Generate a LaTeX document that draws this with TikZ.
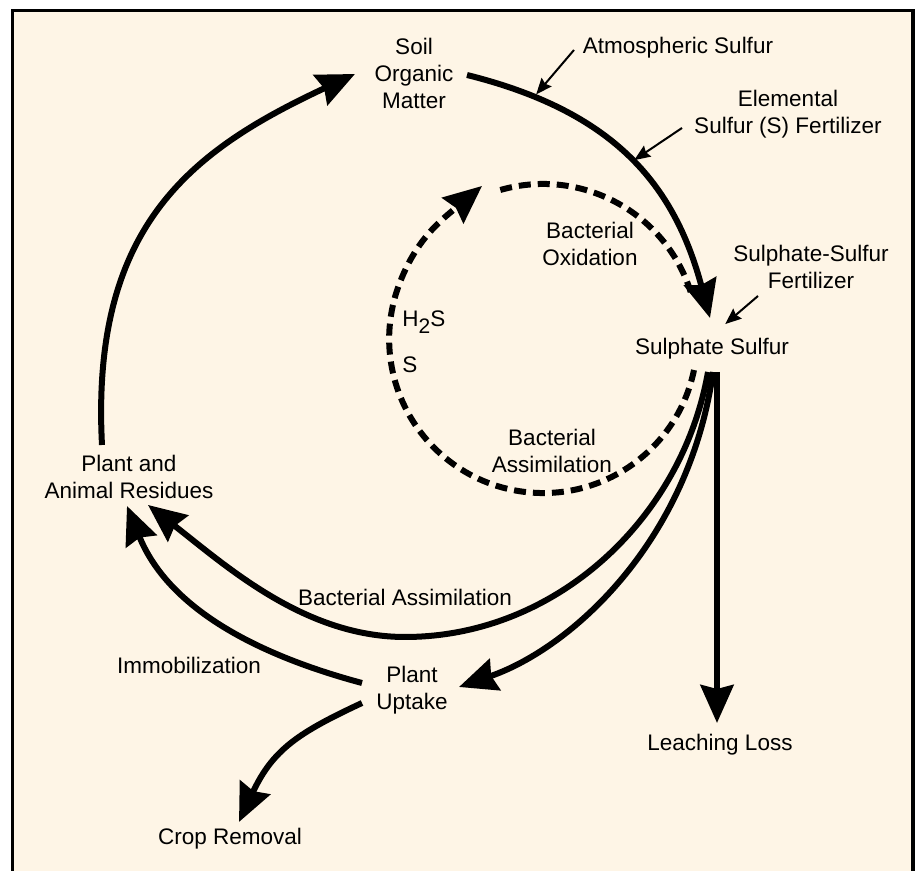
\documentclass[tikz,border=0pt]{standalone}
\usepackage{fontspec}
\setmainfont{Liberation Sans}
\setsansfont{Liberation Sans}
\usepackage{xcolor}
\usepackage{tikz}
\usetikzlibrary{positioning,arrows.meta}
\definecolor{cyCream}{HTML}{FEF5E6}
\definecolor{cyInk}{HTML}{000000}
\tikzset{
  cy-text/.style={font=\sffamily\fontsize{11.25}{13.5}\selectfont,
    align=center, inner sep=0pt, text=cyInk},
  cy-flow/.style={draw=cyInk, line width=3pt,
    -{Stealth[length=19pt,width=16.5pt,inset=2pt]}},
  cy-dash/.style={draw=cyInk, line width=3pt, dash pattern=on 6pt off 3.5pt},
  cy-input/.style={draw=cyInk, line width=1pt,
    -{Stealth[length=8pt,width=6.5pt,inset=1pt]}, shorten >=1.5pt},
  cy-frame/.style={draw=cyInk, line width=1.75pt}
}

\begin{document}
\begin{tikzpicture}[x=0.5pt, y=0.5pt]
\useasboundingbox (0,0) rectangle (916,871);
\fill[cyCream] (12.5,-4) rectangle (913,860.5);
\draw[cy-frame] (12.5,-4) -- (12.5,860.5) -- (913,860.5) -- (913,-4);

\node[cy-text] (som) at (414,798) {Soil\\Organic\\Matter};
\node[cy-text] (atmos) at (678,823) {Atmospheric Sulfur};
\node[cy-text] (elemFert) at (788,757) {Elemental\\Sulfur (S) Fertilizer};
\node[cy-text] (sulfFert) at (811,604.5) {Sulphate-Sulfur\\Fertilizer};
\node[cy-text] (sulphate) at (712,522) {Sulphate Sulfur};
\node[cy-text] (oxid) at (590,627.5) {Bacterial\\Oxidation};
\node[cy-text, anchor=base west] (hsul) at (402,544)
  {H\raisebox{-3.5pt}{\fontsize{10.5}{10.5}\selectfont 2}S};
\node[cy-text, below=23pt of hsul.base west, anchor=base west] (ssul) {S};
\node[cy-text] (assimIn) at (552,420) {Bacterial\\Assimilation};
\node[cy-text] (residues) at (129,394.5) {Plant and\\Animal Residues};
\node[cy-text] (assimOut) at (405,274) {Bacterial Assimilation};
\node[cy-text] (immob) at (189,206) {Immobilization};
\node[cy-text] (uptake) at (412,181) {Plant\\Uptake};
\node[cy-text] (leach) at (720,126) {Leaching Loss};
\node[cy-text] (crop) at (230,32) {Crop Removal};

\coordinate (dsA) at (482,685);
\coordinate (dsB) at (500.3,681);

\draw[cy-flow] ([shift={(-27,31.5)}]residues.center)
  .. controls +(93:220) and +(205:180) .. ([shift={(-59,-1)}]som.center);
\draw[cy-flow] ([shift={(53,-2)}]som.center)
  .. controls +(-14:150) and +(105:140) .. ([shift={(-2,31)}]sulphate.center)
  coordinate[pos=0.17] (atmHit) coordinate[pos=0.51] (elemHit);
\draw[cy-input] ([shift={(-104,-2)}]atmos.center) -- (atmHit);
\draw[cy-input] ([shift={(-106,-14)}]elemFert.center) -- (elemHit);
\draw[cy-input] ([shift={(-53,-29.5)}]sulfFert.center) -- ([shift={(11,23)}]sulphate.center);

\draw[cy-dash] (dsB) arc[start angle=106, end angle=17.7, radius=155];
\draw[cy-dash, -{Stealth[length=19pt,width=16.5pt,inset=2pt]}]
  ([shift={(-18,-21)}]sulphate.center) arc[start angle=-11.6, end angle=-200, radius=154]
  to[out=70, in=220] (dsA);

\draw[cy-flow] ([shift={(-4,-23)}]sulphate.center)
  .. controls +(-100:150) and +(0:150) .. ([shift={(0,-40)}]assimOut.center)
  .. controls +(180:100) and +(-38:100) .. ([shift={(19,-28.5)}]residues.center);
\draw[cy-flow] ([shift={(1,-23)}]sulphate.center)
  .. controls +(-98:170) and +(19:120) .. ([shift={(47,3)}]uptake.center);
\draw[cy-flow] ([shift={(5,-23)}]sulphate.center) -- ([shift={(-3,22)}]leach.center);
\draw[cy-flow] ([shift={(-50,7)}]uptake.center)
  .. controls +(165:110) and +(-68:110) .. ([shift={(-2,-29.5)}]residues.center);
\draw[cy-flow] ([shift={(-50,-13)}]uptake.center)
  .. controls +(205:70) and +(65:80) .. ([shift={(9,17)}]crop.center);
\end{tikzpicture}
\end{document}
